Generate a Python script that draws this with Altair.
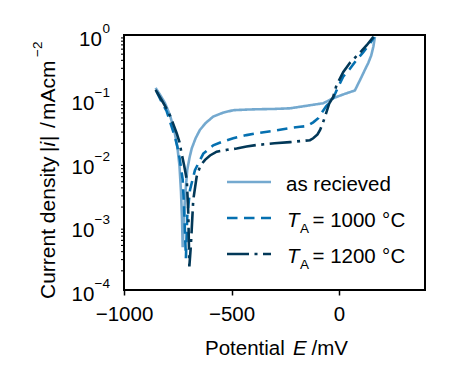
import altair as alt
import pandas as pd

FONT = "Liberation Sans"
FS = 20.5
TFS = 21
SFS = 13.5

series_names = ["as recieved", "TA = 1000 C", "TA = 1200 C"]
colors = ["#74a9cf", "#0570b0", "#023858"]
dashes = [[1, 0], [10.5, 6.5], [22, 5.5, 3, 5.5]]

# as received
E_asrec = [-853, -830, -809, -786, -766, -752, -742, -735, -730, -727, -722, -716, -706, -695,
           -685, -667, -647, -620, -585, -540, -492, -430, -383, -300, -228, -150, -73, -27,
           20, 74, 90, 106, 120, 136, 150, 160, 167]
I_asrec = [0.148, 0.112, 0.0851, 0.0550, 0.0316, 0.0178, 0.00891, 0.00355, 0.00126, 0.000468,
           0.00126, 0.00282, 0.00759, 0.0120, 0.0166, 0.0240, 0.0324, 0.0417, 0.0525, 0.0603,
           0.0661, 0.0676, 0.0684, 0.0692, 0.0708, 0.0776, 0.0851, 0.102, 0.117, 0.135, 0.174,
           0.224, 0.282, 0.363, 0.479, 0.661, 0.933]

# T_A = 1000 C
E_1000 = [-848, -825, -801, -782, -763, -750, -740, -727, -720, -712, -706, -693, -670, -631,
          -585, -540, -492, -430, -383, -300, -228, -181, -150, -120, -95, -80, -60, -40, -27,
          -5, 20, 51, 82, 113, 144, 164]
I_1000 = [0.129, 0.0891, 0.0631, 0.0398, 0.0251, 0.0166, 0.0110, 0.00537, 0.00178, 0.000316,
          0.00141, 0.00372, 0.00759, 0.0138, 0.0186, 0.0214, 0.0240, 0.0269, 0.0288, 0.0316,
          0.0347, 0.0363, 0.0372, 0.0427, 0.0501, 0.0603, 0.0759, 0.0891, 0.102, 0.151, 0.224,
          0.295, 0.407, 0.537, 0.741, 0.933]

# T_A = 1200 C
E_1200 = [-853, -825, -794, -775, -755, -742, -732, -720, -708, -701, -696, -690, -685, -678,
          -662, -645, -623, -600, -569, -520, -476, -430, -383, -300, -228, -135, -120, -100,
          -88, -75, -65, -45, -27, -11, -3, 20, 50, 82, 105, 129, 160]
I_1200 = [0.138, 0.0955, 0.0631, 0.0437, 0.0288, 0.0209, 0.0138, 0.00891, 0.00537, 0.00158,
          0.000234, 0.000447, 0.000891, 0.00257, 0.00603, 0.00891, 0.0110, 0.0129, 0.0148,
          0.0158, 0.0166, 0.0178, 0.0188, 0.0200, 0.0209, 0.0224, 0.0240, 0.0275, 0.0324,
          0.0417, 0.0525, 0.0851, 0.107, 0.166, 0.186, 0.263, 0.363, 0.468, 0.562, 0.692, 0.933]

x_ticks = [-1000, -500, 0]
y_major = [1e-4, 1e-3, 1e-2, 1e-1, 1]
y_exps = ["\u22124", "\u22123", "\u22122", "\u22121", "0"]
y_minor = [m * 10.0 ** k for k in (-4, -3, -2, -1) for m in range(2, 10)]

rows = []
for name, E, I in [(series_names[0], E_asrec, I_asrec),
                   (series_names[1], E_1000, I_1000),
                   (series_names[2], E_1200, I_1200)]:
    for e, i in zip(E, I):
        rows.append({"E": e, "i": i, "series": name})
df = pd.DataFrame(rows)

W, H = 301, 255
xscale = alt.Scale(domain=[-1000, 400], nice=False, zero=False)
yscale = alt.Scale(type="log", domain=[1e-4, 1], nice=False)

lines = alt.Chart(df).mark_line(strokeWidth=2.6, clip=True).encode(
    x=alt.X("E:Q", scale=xscale,
            axis=alt.Axis(values=x_ticks, format="d", title=None, grid=False, domain=False,
                          tickSize=5, tickWidth=1.5, tickColor="black", labelFont=FONT,
                          labelFontSize=FS, labelColor="black", labelPadding=9,
                          labelFlush=False)),
    y=alt.Y("i:Q", scale=yscale,
            axis=alt.Axis(values=y_major, labels=False, title=None, grid=False, domain=False,
                          tickSize=5, tickWidth=1.5, tickColor="black")),
    color=alt.Color("series:N", scale=alt.Scale(domain=series_names, range=colors), legend=None),
    strokeDash=alt.StrokeDash("series:N", scale=alt.Scale(domain=series_names, range=dashes),
                              legend=None),
)

minor = alt.Chart(pd.DataFrame({"v": y_minor})).mark_rule(color="black", strokeWidth=1.1).encode(
    y=alt.Y("v:Q", scale=yscale, axis=None), x=alt.value(-3), x2=alt.value(0))

ylab = alt.Chart(pd.DataFrame({"v": y_major, "exp": y_exps}))
exp_txt = ylab.mark_text(align="right", baseline="alphabetic", font=FONT, fontSize=SFS,
                         color="black", dy=-2).encode(
    y=alt.Y("v:Q", scale=yscale, axis=None), x=alt.value(-14), text="exp:N")
ten_txt = ylab.transform_calculate(tx="-14.5 - 7.6*length(datum.exp)").mark_text(
    align="right", baseline="alphabetic", font=FONT, fontSize=FS, color="black", dy=11,
    text="10").encode(
    y=alt.Y("v:Q", scale=yscale, axis=None), x=alt.X("tx:Q", scale=None, axis=None))

one = pd.DataFrame({"k": [0]})


def spine(x1, x2, y1, y2):
    return alt.Chart(one).mark_rule(color="black", strokeWidth=2, strokeCap="square").encode(
        x=alt.value(x1), x2=alt.value(x2), y=alt.value(y1), y2=alt.value(y2))


spines = [spine(0, W, 0, 0), spine(0, W, H, H), spine(0, 0, 0, H), spine(W, W, 0, H)]


def txt(s, x, y, size=FS, italic=False, angle=None):
    kw = dict(text=s, align="left", baseline="alphabetic", font=FONT, fontSize=size,
              color="black")
    if italic:
        kw["fontStyle"] = "italic"
    if angle is not None:
        kw["angle"] = angle
    return alt.Chart(one).mark_text(**kw).encode(x=alt.value(x), y=alt.value(y))


layers = [lines, minor] + spines + [exp_txt, ten_txt]

# x title: Potential E /mV
layers += [txt("Potential", 81, 320), txt("E", 169, 320, italic=True), txt("/mV", 187.5, 320)]

# y title: Current density |i| /mAcm^-2 (rotated)
yx = -69
layers += [txt("Current density", yx, 264, size=TFS, angle=270),
           txt("|", yx, 117, size=TFS, angle=270),
           txt("i", yx, 111.5, size=TFS, italic=True, angle=270),
           txt("|", yx, 106, size=TFS, angle=270),
           txt("/", yx, 93, size=TFS, angle=270),
           txt("mAcm", yx, 85, size=TFS, angle=270),
           txt("\u22122", yx - 13, 22, size=SFS, angle=270)]

# legend
for k in range(3):
    ly = 147 + 36 * k
    layers.append(alt.Chart(one).mark_rule(strokeWidth=2.6, color=colors[k],
                                           strokeDash=dashes[k]).encode(
        x=alt.value(103), x2=alt.value(147), y=alt.value(ly)))
    base = ly + 9
    if k == 0:
        layers.append(txt("as recieved", 162, base))
    else:
        layers += [txt("T", 163, base, italic=True),
                   txt("A", 176, base + 6, size=SFS),
                   txt("= " + ("1000" if k == 1 else "1200"), 188.5, base),
                   txt("\u00b0", 258, base),
                   txt("C", 266.5, base)]

chart = alt.layer(*layers).properties(
    width=W, height=H,
    background="white",
    autosize=alt.AutoSizeParams(type="none"),
    padding={"left": 124, "top": 35, "right": 24, "bottom": 85},
).configure_view(strokeWidth=0)

chart.save("out.html", embed_options={"renderer": "svg", "actions": False})
